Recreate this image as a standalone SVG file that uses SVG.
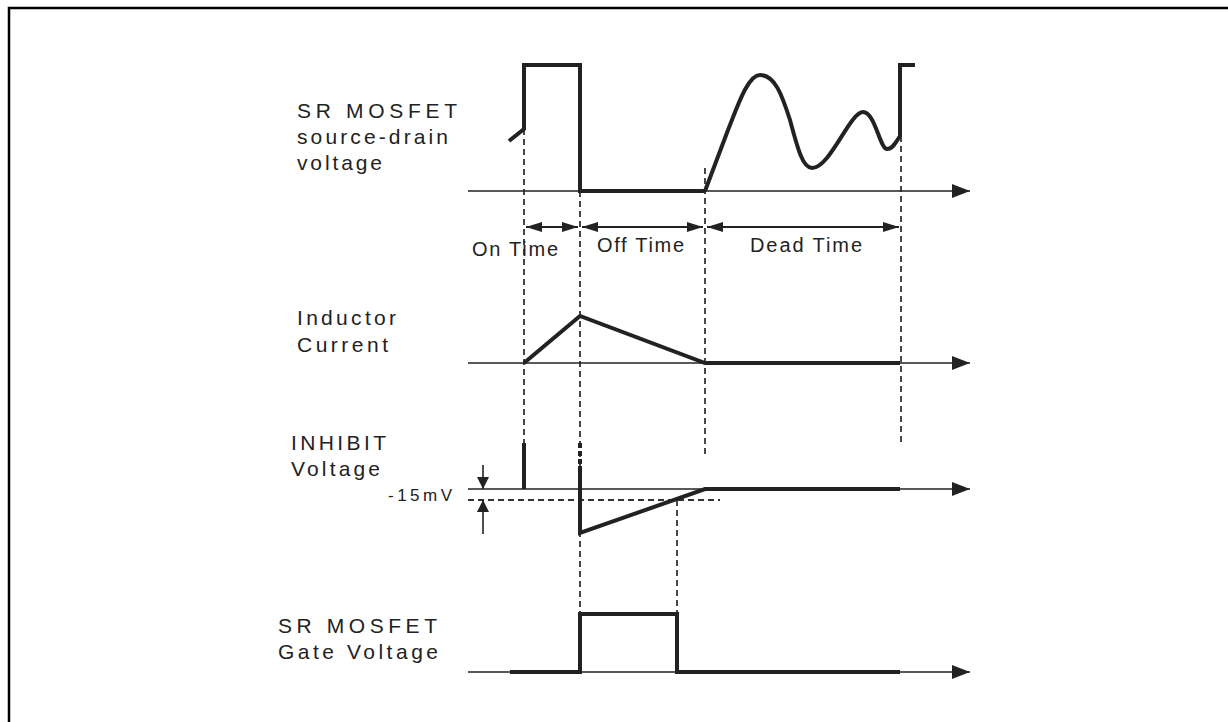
<svg xmlns="http://www.w3.org/2000/svg" width="1228" height="722" viewBox="0 0 1228 722">
  <defs>
    <marker id="axisArrow" viewBox="0 0 18 14" refX="18" refY="7" markerWidth="18" markerHeight="14" markerUnits="userSpaceOnUse" orient="auto">
      <path d="M0,0 L18,7 L0,14 Z" fill="#222"/>
    </marker>
    <marker id="dimArrow" viewBox="0 0 16 10" refX="16" refY="5" markerWidth="16" markerHeight="10" markerUnits="userSpaceOnUse" orient="auto-start-reverse">
      <path d="M0,0 L16,5 L0,10 Z" fill="#222"/>
    </marker>
    <marker id="smallArrow" viewBox="0 0 12 14" refX="12" refY="7" markerWidth="12" markerHeight="14" markerUnits="userSpaceOnUse" orient="auto">
      <path d="M0,1 L12,7 L0,13 Z" fill="#222"/>
    </marker>
  </defs>
  <style>
    .lbl { font-family: "Liberation Sans", Arial, sans-serif; font-size: 21px; fill: #222; }
    .tm { font-family: "Liberation Sans", Arial, sans-serif; font-size: 20px; fill: #222; }
    .mv { font-family: "Liberation Sans", Arial, sans-serif; font-size: 17px; fill: #222; }
    .axis { stroke: #222; stroke-width: 1.6; fill: none; marker-end: url(#axisArrow); }
    .wave { stroke: #222; stroke-width: 4; fill: none; stroke-linejoin: miter; }
    .dash { stroke: #333; stroke-width: 1.8; fill: none; stroke-dasharray: 6 4; }
    .dim { stroke: #222; stroke-width: 2; fill: none; marker-start: url(#dimArrow); marker-end: url(#dimArrow); }
    .ptr { stroke: #222; stroke-width: 1.6; fill: none; marker-end: url(#smallArrow); }
  </style>
  <rect width="1228" height="722" fill="#fff"/>
  <path d="M9,722 V8 H1228" fill="none" stroke="#000" stroke-width="2.5"/>

  <g id="connectors">
    <line class="dash" x1="524" y1="129" x2="524" y2="443"/>
    <line class="dash" x1="580" y1="191" x2="580" y2="614"/>
    <line class="dash" x1="705" y1="168" x2="705" y2="456"/>
    <line class="dash" x1="901" y1="136" x2="901" y2="443"/>
    <line class="dash" x1="677" y1="500" x2="677" y2="614"/>
    <line class="dash" x1="468" y1="500" x2="720" y2="500"/>
    <line class="dim" x1="526" y1="227" x2="578" y2="227"/>
    <line class="dim" x1="582" y1="227" x2="703" y2="227"/>
    <line class="dim" x1="707" y1="227" x2="899" y2="227"/>
    <line class="ptr" x1="483" y1="465" x2="483" y2="489"/>
    <line class="ptr" x1="483" y1="534" x2="483" y2="500"/>
  </g>

  <g id="sd-voltage">
    <line class="axis" x1="468" y1="191" x2="970" y2="191"/>
    <path class="wave" d="M509,141 L524,129 V65 H580 V191 H705"/>
    <path class="wave" d="M705,191 L728,130 C738,105 748,75 760,75 C775,75 782,95 790,120 C798,150 803,168 812,168 C830,168 850,112 863,112 C875,112 880,149 887,149 C893,149 896,142 900,136 V65 H915"/>
    <text class="lbl" x="297" y="118" textLength="160" lengthAdjust="spacing">SR MOSFET</text>
    <text class="lbl" x="297" y="144" textLength="151" lengthAdjust="spacing">source-drain</text>
    <text class="lbl" x="297" y="170" textLength="85" lengthAdjust="spacing">voltage</text>
  </g>

  <g id="time-labels">
    <text class="tm" x="472" y="256" textLength="86" lengthAdjust="spacing">On Time</text>
    <text class="tm" x="597" y="252" textLength="87" lengthAdjust="spacing">Off Time</text>
    <text class="tm" x="750" y="252" textLength="112" lengthAdjust="spacing">Dead Time</text>
  </g>

  <g id="inductor-current">
    <line class="axis" x1="468" y1="363" x2="970" y2="363"/>
    <path class="wave" d="M524,363 L580,316 L705,363 H900"/>
    <text class="lbl" x="297" y="325" textLength="99" lengthAdjust="spacing">Inductor</text>
    <text class="lbl" x="297" y="352" textLength="91" lengthAdjust="spacing">Current</text>
  </g>

  <g id="inhibit-voltage">
    <line class="axis" x1="468" y1="489" x2="970" y2="489"/>
    <path class="wave" d="M524,443 V489"/>
    <path class="wave" d="M580,443 V466" stroke-dasharray="5 3"/>
    <path class="wave" d="M580,466 V533 L705,489 H900"/>
    <text class="lbl" x="291" y="450" textLength="95" lengthAdjust="spacing">INHIBIT</text>
    <text class="lbl" x="291" y="476" textLength="89" lengthAdjust="spacing">Voltage</text>
    <text class="mv" x="388" y="501" textLength="64" lengthAdjust="spacing">-15mV</text>
  </g>

  <g id="gate-voltage">
    <line class="axis" x1="468" y1="672" x2="970" y2="672"/>
    <path class="wave" d="M510,672 H580 V614 H677 V672 H900"/>
    <text class="lbl" x="278" y="633" textLength="159" lengthAdjust="spacing">SR MOSFET</text>
    <text class="lbl" x="278" y="659" textLength="160" lengthAdjust="spacing">Gate Voltage</text>
  </g>
</svg>
